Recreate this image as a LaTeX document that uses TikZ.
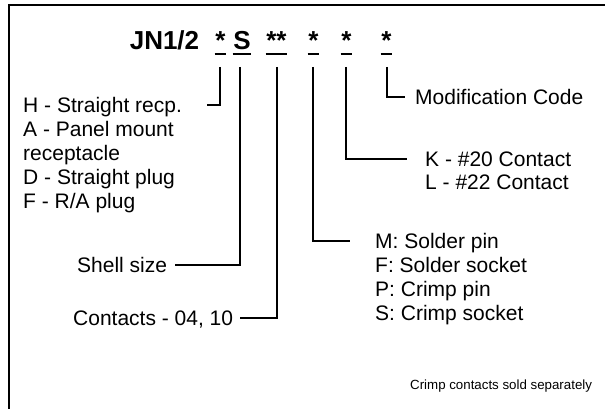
\documentclass[tikz,border=0pt]{standalone}
\usepackage{fontspec}
\setmainfont{Liberation Sans}
\begin{document}
\begin{tikzpicture}[x=1pt,y=-1pt,
  lbl/.style={inner sep=0pt, text height=15pt, text depth=0pt, font=\fontsize{21}{24}\selectfont},
  note/.style={inner sep=0pt, text height=9.5pt, text depth=0pt, font=\fontsize{13.3}{16}\selectfont},
  code/.style={inner xsep=0.6pt, inner ysep=0pt, anchor=base, font=\bfseries\fontsize{26}{30}\selectfont},
  uline/.style={line width=2pt},
  conn/.style={line width=1.6pt},
  frame/.style={line width=2pt}]
\useasboundingbox (0,0) rectangle (605,409);
% frame
\draw[frame] (605,5) -- (8.5,5) -- (8.5,409);
% title and code
\node[code, anchor=base west] (title) at (129,50) {JN1/2};
\node[code] (s1) at (220.5,50) {*};
\node[code] (s2) at (242,50) {S};
\node[code] (s3) at (276.5,50) {**};
\node[code] (s4) at (313.5,50) {*};
\node[code] (s5) at (346.5,50) {*};
\node[code] (s6) at (386.5,50) {*};
\foreach \s in {s1,s2,s3,s4,s5,s6}
  \draw[uline] ([yshift=-4pt]\s.base west) -- ([yshift=-4pt]\s.base east);
% connector tops
\coordinate (t1) at (220,67);
\coordinate (t2) at (240,67);
\coordinate (t3) at (277,67);
\coordinate (t4) at (313,67);
\coordinate (t5) at (346,67);
\coordinate (t6) at (387,67);
% left block
\node[lbl, anchor=west] (h) at (23,105) {H - Straight recp.};
\node[lbl, anchor=west] (a) at (23,129) {A - Panel mount};
\node[lbl, anchor=west] (a2) at (23,153) {receptacle};
\node[lbl, anchor=west] (d) at (23,177) {D - Straight plug};
\node[lbl, anchor=west] (f) at (23,201) {F - R/A plug};
\node[lbl, anchor=west] (shell) at (77,265) {Shell size};
\node[lbl, anchor=west] (cont) at (73,318) {Contacts - 04, 10};
% right blocks
\node[lbl, anchor=west] (mod) at (415,97) {Modification Code};
\node[lbl, anchor=west] (k) at (425,159) {K - \#20 Contact};
\node[lbl, anchor=west] (l) at (425,182) {L - \#22 Contact};
\node[lbl, anchor=west] (m) at (375,241) {M: Solder pin};
\node[lbl, anchor=west] (fs) at (375,265) {F: Solder socket};
\node[lbl, anchor=west] (p) at (375,289) {P: Crimp pin};
\node[lbl, anchor=west] (sc) at (375,313) {S: Crimp socket};
\node[note, anchor=west] (crimp) at (410,385) {Crimp contacts sold separately};
% connectors
\coordinate (e1) at (207,105);
\draw[conn] (t1) |- (e1);
\coordinate (e2) at (175,265);
\draw[conn] (t2) |- (e2);
\coordinate (e3) at (240,318);
\draw[conn] (t3) |- (e3);
\draw[conn] (t4) |- ([xshift=-25pt]m.west);
\draw[conn] (t5) |- ([xshift=-18pt]k.west);
\draw[conn] (t6) |- ([xshift=-10pt]mod.west);
\end{tikzpicture}
\end{document}
